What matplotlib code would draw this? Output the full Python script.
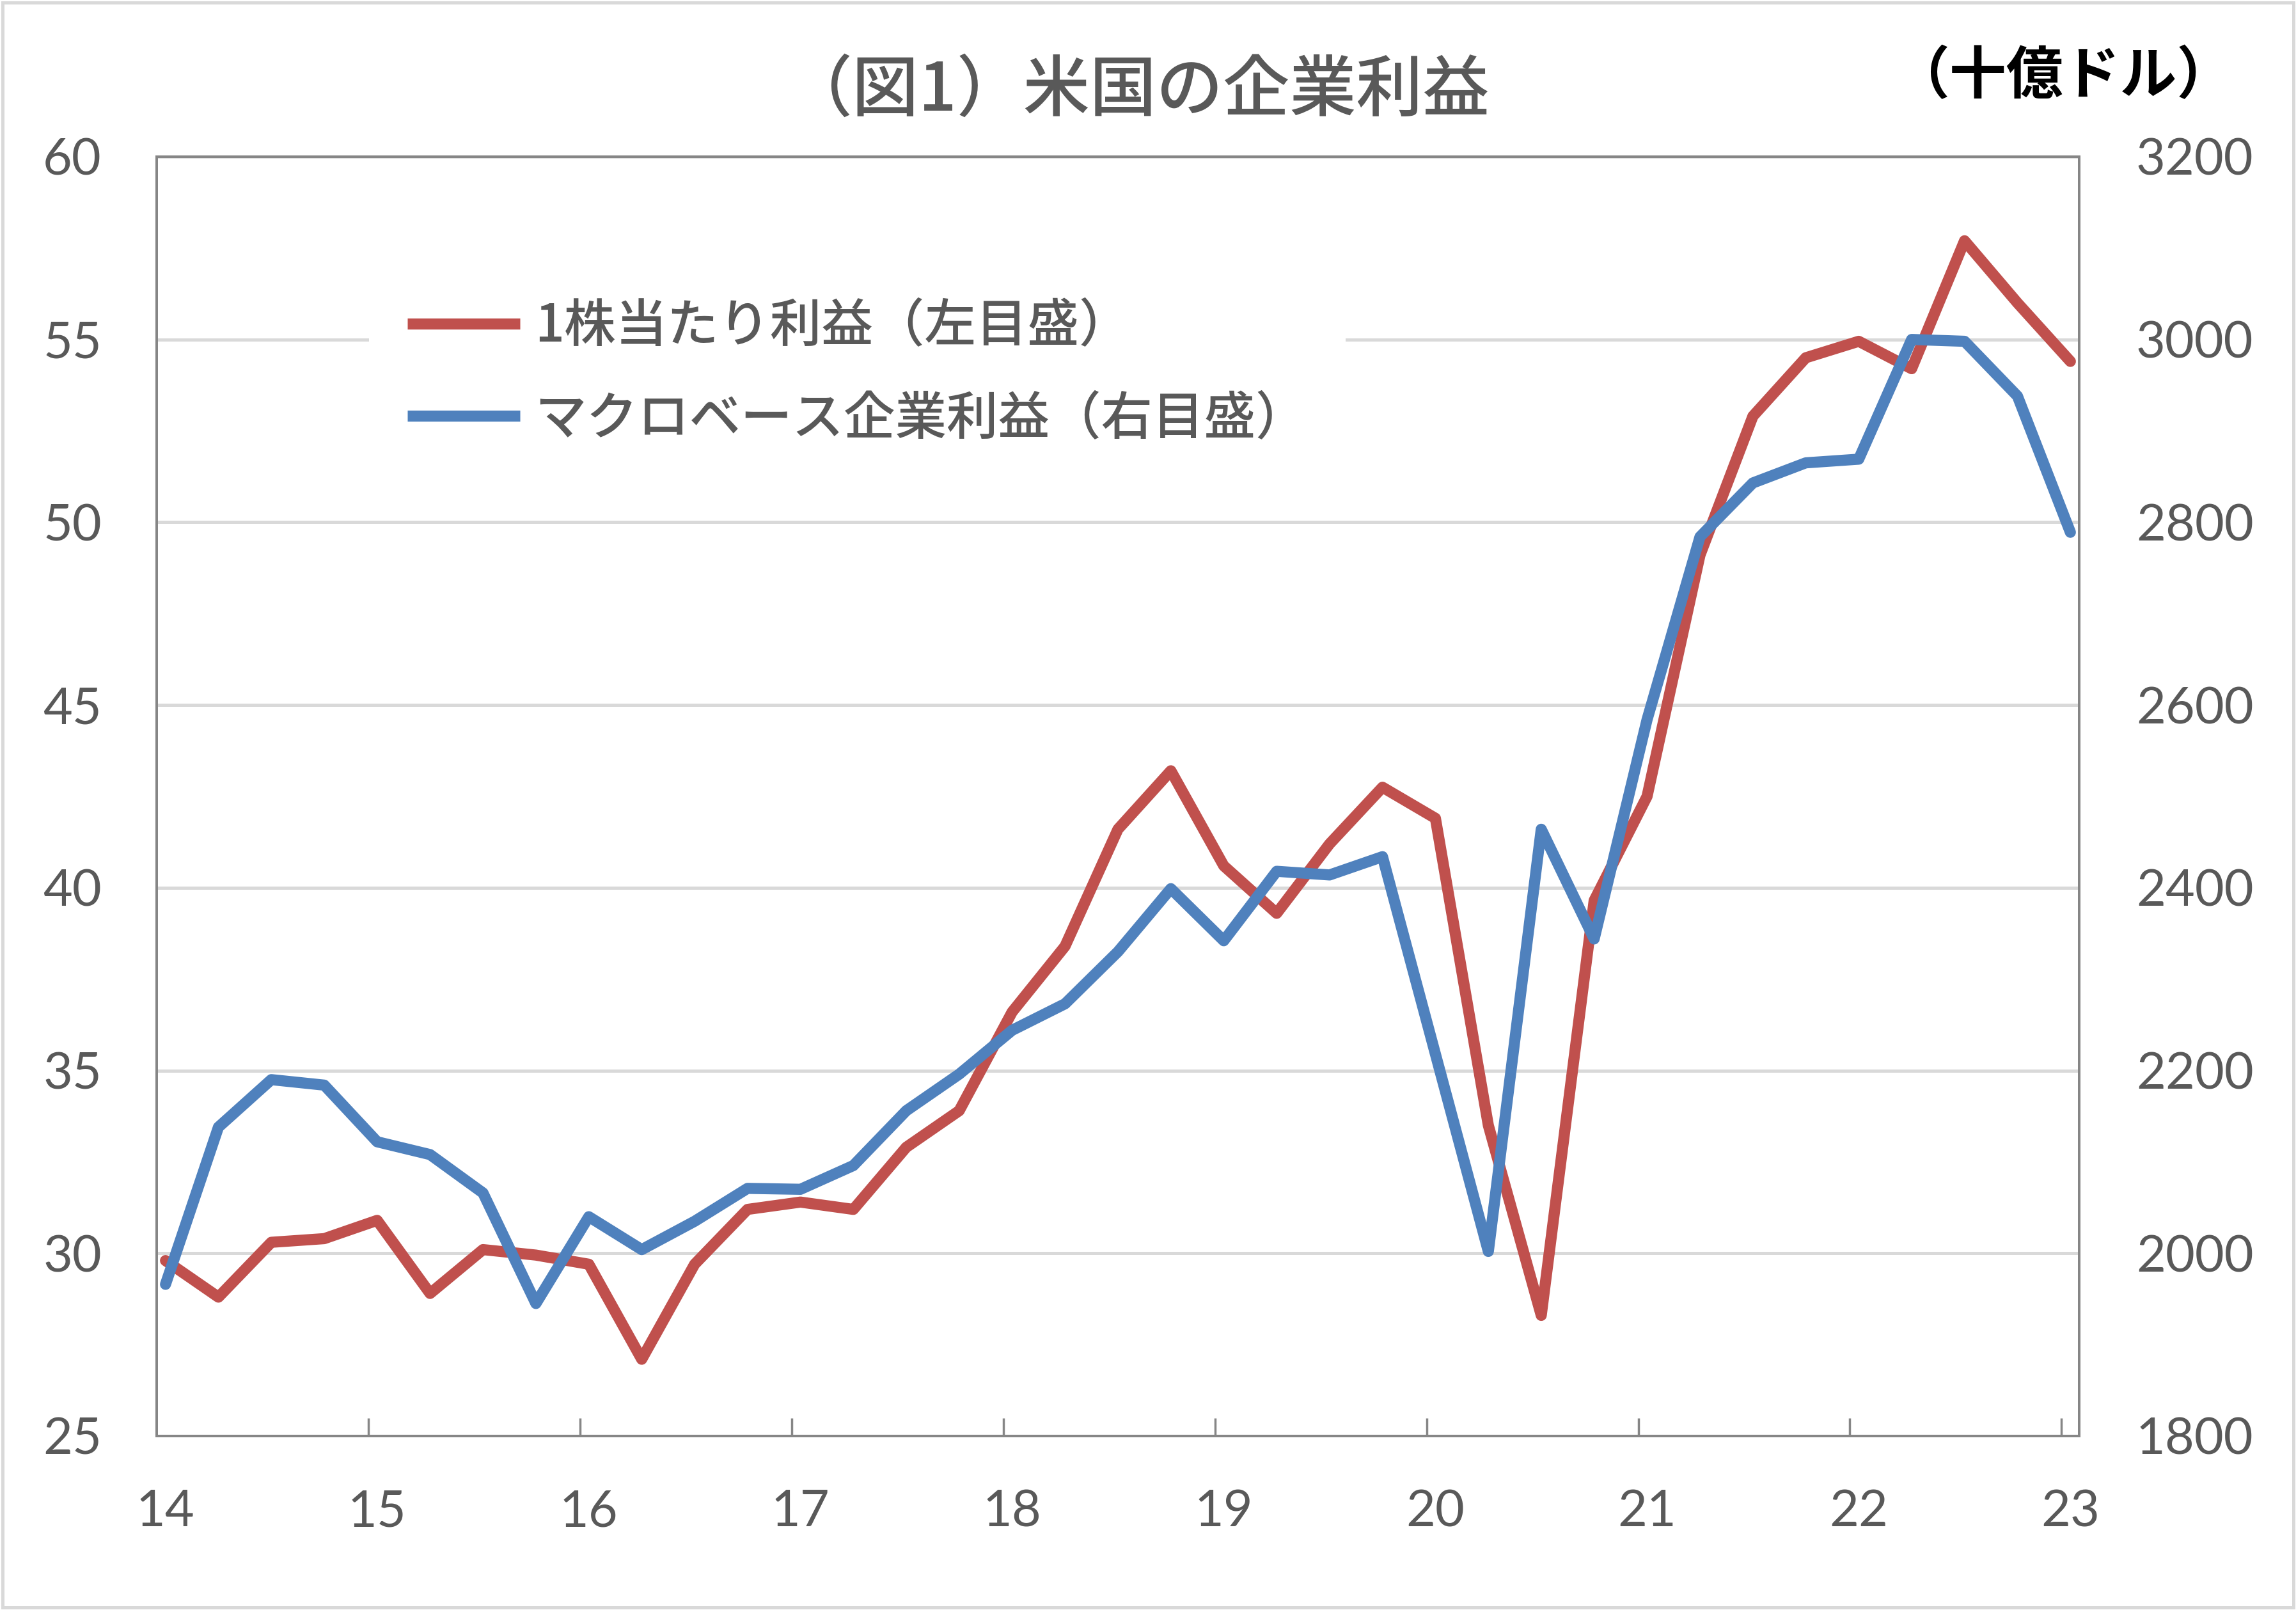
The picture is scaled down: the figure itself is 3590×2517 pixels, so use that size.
import matplotlib
matplotlib.use("Agg")
import matplotlib.pyplot as plt
from matplotlib.patches import Rectangle
import numpy as np

plt.rcParams['font.family'] = ['Noto Sans CJK JP', 'DejaVu Sans']

# ---- data ----
years = ['14', '15', '16', '17', '18', '19', '20', '21', '22', '23']
eps = [29.8, 28.8, 30.3, 30.4, 30.9, 28.9, 30.1, 29.95, 29.7, 27.1, 29.7, 31.2,
       31.4, 31.2, 32.9, 33.9, 36.6, 38.4, 41.6, 43.2, 40.6, 39.3, 41.2, 42.75,
       41.9, 33.5, 28.3, 39.65, 42.5, 49.1, 52.9, 54.5, 54.95, 54.2, 57.7, 56.0, 54.4]
macro = [1966, 2138, 2190, 2184, 2122, 2108, 2066, 1945, 2040, 2004, 2035, 2071,
         2070, 2096, 2156, 2196, 2244, 2273, 2330, 2399, 2342, 2418, 2414, 2434,
         2218, 2002, 2464, 2344, 2584, 2784, 2843, 2865, 2869, 3000, 2998, 2938, 2789]
label_eps = '1株当たり利益（左目盛）'
label_macro = 'マクロベース企業利益（右目盛）'
title = '（図1）米国の企業利益'
unit = '（十億ドル）'
left_ticks = [25, 30, 35, 40, 45, 50, 55, 60]
right_ticks = [1800, 2000, 2200, 2400, 2600, 2800, 3000, 3200]

# x positions: monthly date axis, quarterly points at centre of first month
xq = np.arange(len(eps)) * 3 + 0.5

W, H = 3590, 2517
fig = plt.figure(figsize=(W / 100, H / 100), dpi=100)
ax = fig.add_axes([245 / W, 1 - 2245 / H, (3251 - 245) / W, (2245 - 245) / H])
ax2 = ax.twinx()

red = '#C0504D'
blue = '#4F81BD'
grey_txt = '#595959'
spine_c = '#868686'

l1, = ax.plot(xq, eps, color=red, lw=12.5, solid_capstyle='round',
              solid_joinstyle='round', label=label_eps, zorder=3)
l2, = ax2.plot(xq, macro, color=blue, lw=12.5, solid_capstyle='round',
               solid_joinstyle='round', label=label_macro, zorder=3)

ax.set_xlim(0, 109)
ax.set_ylim(25, 60)
ax2.set_ylim(1800, 3200)
ax.set_yticks(left_ticks)
ax2.set_yticks(right_ticks)

# grid
ax.yaxis.grid(True, color='#D9D9D9', lw=3.6, zorder=0)
ax.set_axisbelow(True)

# x ticks: marks at year boundaries, labels at centre of January slot
ax.set_xticks(np.arange(12, 109, 12), minor=True)
ax.set_xticks(np.arange(0, 109, 12) + 0.5)
ax.set_xticklabels(years)
ax.tick_params(axis='x', which='minor', direction='in', length=20, width=2.5,
               color=spine_c)
ax.tick_params(axis='x', which='major', length=0, pad=60, labelsize=57,
               labelcolor=grey_txt)
ax.tick_params(axis='y', length=0, pad=62, labelsize=57, labelcolor=grey_txt)
ax2.tick_params(axis='y', length=0, pad=64, labelsize=57, labelcolor=grey_txt)
for lab in ax.get_xticklabels() + ax.get_yticklabels() + ax2.get_yticklabels():
    lab.set_fontfamily(['Lato', 'DejaVu Sans'])

for a in (ax, ax2):
    for s in a.spines.values():
        s.set_color(spine_c)
        s.set_linewidth(2.8)

# legend
leg = ax2.legend(handles=[l1, l2], loc='center left',
                 bbox_to_anchor=(577 / W, 1 - 583 / H), bbox_transform=fig.transFigure,
                 fontsize=58, frameon=True, facecolor='white', edgecolor='none',
                 framealpha=1, fancybox=False, handlelength=2.18, handletextpad=0.29,
                 borderpad=0.75, labelspacing=0.76, borderaxespad=0,
                 prop={'weight': 'medium', 'size': 58})
for t in leg.get_texts():
    t.set_color(grey_txt)
for h in leg.get_lines():
    h.set_solid_capstyle('butt')

fig.text(1778 / W, 1 - 143 / H, title, ha='center', va='center', fontsize=75,
         color=grey_txt, fontweight='medium')
fig.text(3226 / W, 1 - 120 / H, unit, ha='center', va='center', fontsize=64,
         color='black', fontweight='bold')

fig.patches.append(Rectangle((0.001, 0.0015), 0.998, 0.997, transform=fig.transFigure,
                             fill=False, edgecolor='#D9D9D9', lw=3.6))

fig.savefig('out.png', dpi=100, facecolor='white')
